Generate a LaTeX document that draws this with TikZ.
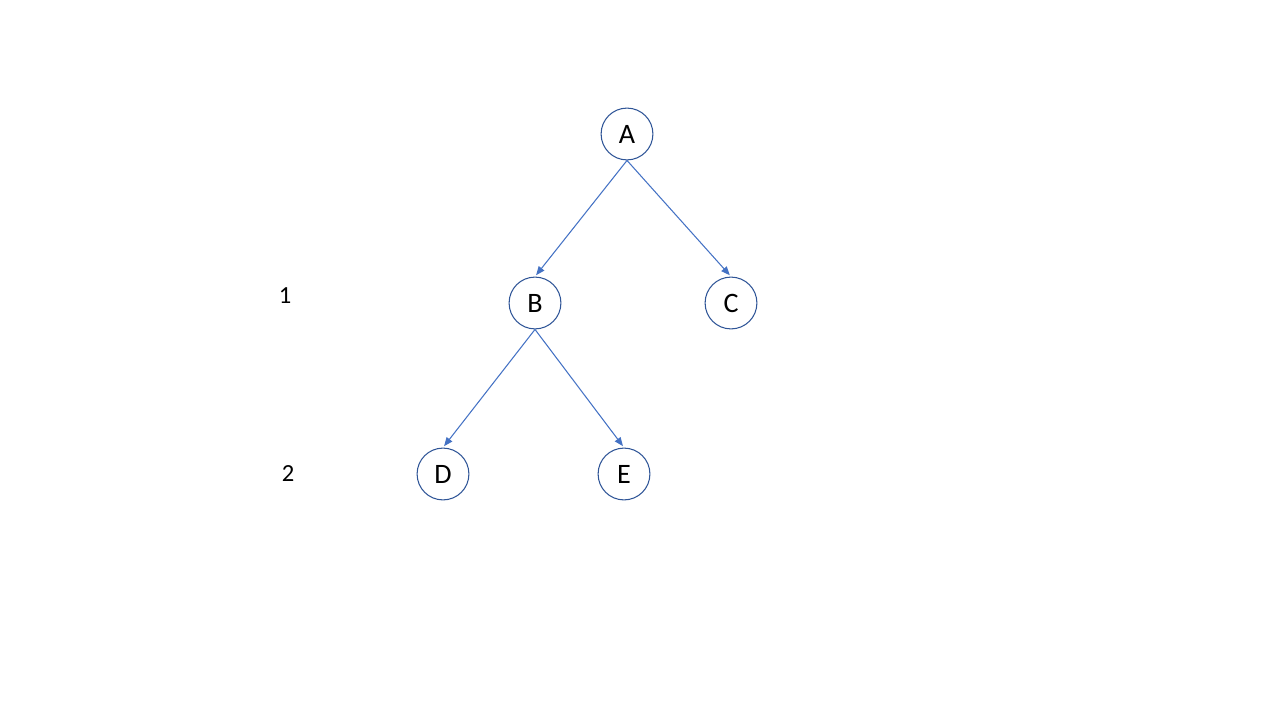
\documentclass[tikz,border=0pt]{standalone}
\usepackage{fontspec}
\setmainfont{Carlito}
\usepackage{xcolor}
\usetikzlibrary{arrows.meta}
\definecolor{ringblue}{HTML}{2F5597}
\definecolor{linkblue}{HTML}{4472C4}
\tikzset{
  treenode/.style={circle,draw=ringblue,line width=0.6pt,minimum size=29.5pt,inner sep=0pt,font=\fontsize{16}{18}\selectfont},
  link/.style={draw=linkblue,line width=0.6pt,-{Triangle[length=5pt,width=4pt]},shorten >=1pt},
  levellabel/.style={font=\fontsize{14}{16}\selectfont}
}

\begin{document}
\begin{tikzpicture}[x=0.02cm,y=-0.02cm]
\useasboundingbox (0,0) rectangle (1280,720);
\node[treenode] (A) at (627,134) {A};
\node[treenode] (B) at (535,303) {B};
\node[treenode] (C) at (731,303) {C};
\node[treenode] (D) at (443,474) {D};
\node[treenode] (E) at (624,474) {E};
\node[levellabel] (lvlone) at (285,296) {1};
\node[levellabel] (lvltwo) at (288,474) {2};
\draw[link] (A.south) -- (B.north);
\draw[link] (A.south) -- (C.north);
\draw[link] (B.south) -- (D.north);
\draw[link] (B.south) -- (E.north);
\end{tikzpicture}
\end{document}
